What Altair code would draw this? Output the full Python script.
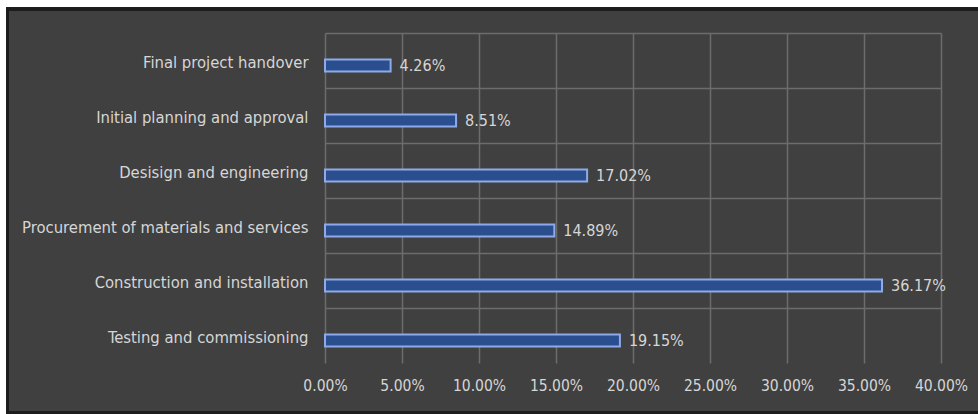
import altair as alt
import pandas as pd

stages = [
    "Final project handover",
    "Initial planning and approval",
    "Desisign and engineering",
    "Procurement of materials and services",
    "Construction and installation",
    "Testing and commissioning",
]
shares = [0.0426, 0.0851, 0.1702, 0.1489, 0.3617, 0.1915]
x_ticks = [0.0, 0.05, 0.10, 0.15, 0.20, 0.25, 0.30, 0.35, 0.40]

df = pd.DataFrame({"stage": stages, "share": shares})

FONT = "Liberation Sans Narrow, DejaVu Sans Condensed, Roboto, sans-serif"
TXT = "#d6d6d6"
GRID = "#6c6c6c"

y_enc = alt.Y(
    "stage:N",
    sort=stages,
    scale=alt.Scale(paddingInner=0, paddingOuter=0),
    axis=alt.Axis(
        title=None, ticks=False, domain=False, grid=True, bandPosition=0,
        gridColor=GRID, gridWidth=1.5, labelOffset=2,
        labelColor=TXT, labelFont=FONT, labelFontSize=16.5, labelPadding=17,
        labelLimit=400,
    ),
)
x_enc = alt.X(
    "share:Q",
    scale=alt.Scale(domain=[0, 0.4], nice=False),
    axis=alt.Axis(
        title=None, values=x_ticks, format=".2%", ticks=False, domain=False,
        grid=True, gridColor=GRID, gridWidth=1.5,
        labelOverlap=False, labelFlush=False,
        labelColor=TXT, labelFont=FONT, labelFontSize=15.5, labelPadding=15,
    ),
)

bars = alt.Chart(df).mark_bar(
    size=12, fill="#2b4e8f", stroke="#8eaaea", strokeWidth=2, yOffset=5
).encode(x=x_enc, y=y_enc)

labels = alt.Chart(df).mark_text(
    align="left", baseline="middle", dx=9, yOffset=5,
    color=TXT, font=FONT, fontSize=16,
).encode(x="share:Q", y=alt.Y("stage:N", sort=stages), text=alt.Text("share:Q", format=".2%"))

# picture frame (decorative border around the panel)
frame_top_white = alt.Chart(df).mark_rule(color="white", strokeWidth=8).encode(
    x=alt.value(-330), x2=alt.value(660), y=alt.value(-29)
)
frame_top_dark = alt.Chart(df).mark_rule(color="#1c1c1c", strokeWidth=3).encode(
    x=alt.value(-319), x2=alt.value(660), y=alt.value(-24)
)
frame_left_white = alt.Chart(df).mark_rule(color="white", strokeWidth=6).encode(
    y=alt.value(-40), y2=alt.value(390), x=alt.value(-322)
)
frame_left_dark = alt.Chart(df).mark_rule(color="#1c1c1c", strokeWidth=3).encode(
    y=alt.value(-25), y2=alt.value(390), x=alt.value(-317.5)
)
frame_bottom_dark = alt.Chart(df).mark_rule(color="#1c1c1c", strokeWidth=3).encode(
    x=alt.value(-319), x2=alt.value(660), y=alt.value(379.5)
)

chart = alt.layer(
    bars, labels,
    frame_top_white, frame_top_dark, frame_left_white, frame_left_dark, frame_bottom_dark,
).properties(
    width=616, height=330,
    padding={"left": 325, "top": 33, "right": 37, "bottom": 51},
    autosize=alt.AutoSizeParams(type="none"),
    background="#404040",
).configure_view(stroke=None)

chart.save("out.html", embed_options={"renderer": "svg", "actions": False})
